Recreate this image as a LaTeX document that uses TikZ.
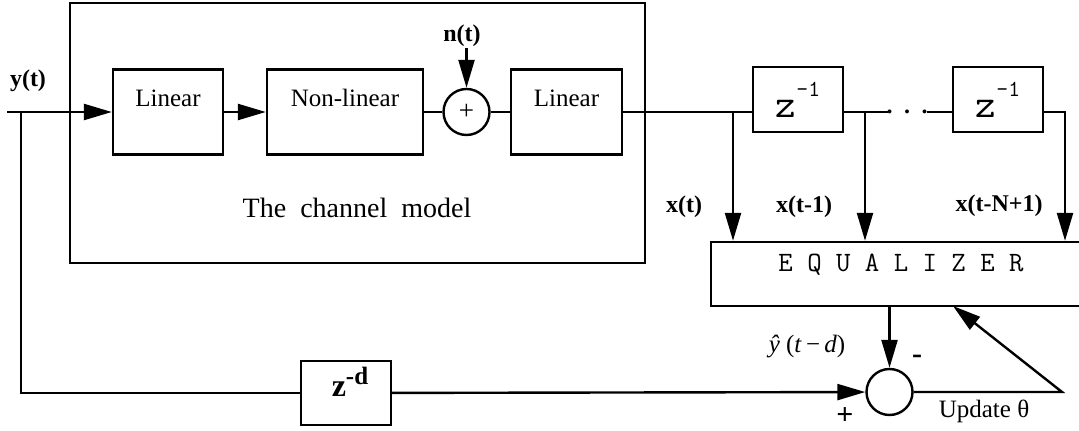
\documentclass[tikz,border=0pt]{standalone}
\usepackage{fontspec}
\setmainfont{Liberation Serif}
\usetikzlibrary{arrows.meta}

\begin{document}
\begin{tikzpicture}[x=0.5pt, y=-0.5pt, line width=1.2pt,
    blk/.style={draw, inner sep=0pt, font=\fontsize{12.5}{14}\selectfont, text height=18.5pt, text depth=24pt},
    dlybox/.style={draw, inner sep=0pt, minimum width=45pt, font=\ttfamily, text height=25.5pt, text depth=7pt},
    sumnode/.style={draw, circle, inner sep=0pt, minimum size=23pt},
    lbl/.style={font=\fontsize{12}{13}\selectfont\bfseries, inner sep=0pt},
    sgn/.style={font=\fontsize{15}{15}\selectfont\bfseries, inner sep=0pt},
    txt/.style={font=\fontsize{12.5}{14}\selectfont, inner sep=0pt},
    arr/.style={-{Triangle[length=14pt, width=8pt]}}
  ]
    \useasboundingbox (0,0) rectangle (1079,431);

    \node[draw, minimum width=287.5pt, minimum height=130pt] (chan) at (357.5,133) {};
    \node[font=\fontsize{14}{16}\selectfont, anchor=base] (title) at (357,218) {The~~channel~~model};

    \node[blk, minimum width=55pt] (lin1) at (168,112) {Linear};
    \node[blk, minimum width=78pt] (nonlin) at (345,112) {Non-linear};
    \node[sumnode, font=\fontsize{13.5}{14}\selectfont] (sum) at (466.5,112) {+};
    \node[blk, minimum width=55.5pt] (lin2) at (566.5,112) {Linear};

    \node[lbl] (ylbl) at (28,81) {y(t)};
    \node[lbl] (noise) at (462,36) {n(t)};

    \node[dlybox] (z1) at (798,99.5) {{\fontsize{20}{20}\selectfont z}\raisebox{10.5pt}{\fontsize{11.5}{11.5}\selectfont -1}};
    \node[dlybox] (z2) at (998,99.5) {{\fontsize{20}{20}\selectfont z}\raisebox{10.5pt}{\fontsize{11.5}{11.5}\selectfont -1}};
    \node[font=\bfseries\fontsize{12}{12}\selectfont, anchor=base, inner sep=0pt] (dots) at (907,114) {.\hspace{5.75pt}.\hspace{5.75pt}.};

    \node[draw, minimum width=190pt, inner sep=0pt, font=\ttfamily\fontsize{14}{16}\selectfont, text height=15pt, text depth=17pt] (eq) at (901,274) {E Q U A L I Z E R};

    \node[lbl] (x0lbl) at (684,207) {x(t)};
    \node[lbl] (x1lbl) at (804,207) {x(t-1)};
    \node[lbl] (xNlbl) at (999,206) {x(t-N+1)};

    \node[draw, inner sep=0pt, minimum width=45pt, text height=18pt, text depth=14pt] (zd) at (346,393) {\hspace{4pt}{\fontsize{16}{16}\selectfont\bfseries z}\raisebox{6pt}{\fontsize{12.5}{12.5}\selectfont\bfseries -d}};
    \node[sumnode] (sub) at (889.5,392) {};

    \node[txt] (yhat) at (807,347) {\textit{ŷ}\ (\textit{t}\,−\,\textit{d})};
    \node[sgn] (minus) at (917,359) {-};
    \node[sgn] (plus) at (845,416) {+};
    \node[txt] (updlbl) at (984,411) {Update θ};

    \coordinate (yin) at (7,112);
    \coordinate (br) at (21,112);
    \coordinate (t0) at (733,112);
    \coordinate (t1) at (865,112);
    \coordinate (dl) at (888,112);
    \coordinate (dr) at (927,112);
    \coordinate (tN) at (1065,112);
    \coordinate (upd) at (1062,392);
    \coordinate (fb) at (953,306);

    \draw[arr] (yin) -- (lin1);
    \draw[arr] (lin1) -- (nonlin);
    \draw (nonlin) -- (sum);
    \draw (sum) -- (lin2);
    \draw[arr] (noise.south -| sum) -- (sum);
    \draw (lin2.east) -- (lin2.east -| z1.west);
    \draw (z1.east |- t1) -- (dl);
    \draw (dr) -- (dr -| z2.west);
    \draw[arr] (t0) -- (t0 |- eq.north);
    \draw[arr] (t1) -- (t1 |- eq.north);
    \draw[arr] (z2.east |- tN) -- (tN) -- (tN |- eq.north);
    \draw (br) |- (zd.west);
    \draw[arr] (zd) -- (sub);
    \draw[arr] (eq.south -| sub) -- (sub);
    \draw[arr] (sub) -- (upd) -- (fb);
\end{tikzpicture}
\end{document}
